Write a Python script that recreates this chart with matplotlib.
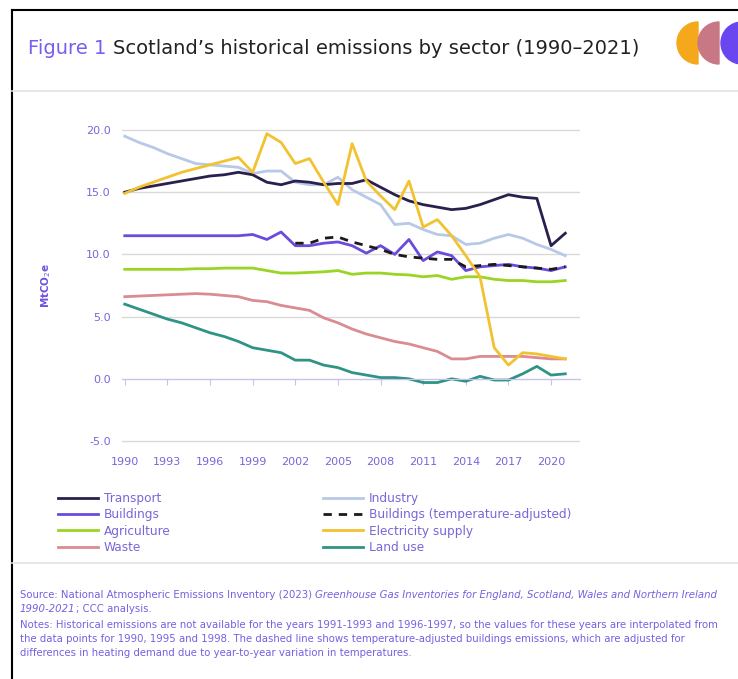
import matplotlib.pyplot as plt
from matplotlib.patches import Wedge, Circle
import numpy as np

plt.rcParams['font.family'] = ['DejaVu Sans']

years = list(range(1990, 2022))

transport = [15.0, 15.3, 15.5, 15.7, 15.9, 16.1, 16.3, 16.4, 16.6, 16.4, 15.8, 15.6,
             15.9, 15.8, 15.6, 15.7, 15.7, 16.0, 15.4, 14.8, 14.3, 14.0, 13.8, 13.6,
             13.7, 14.0, 14.4, 14.8, 14.6, 14.5, 10.7, 11.7]
industry = [19.5, 19.0, 18.6, 18.1, 17.7, 17.3, 17.2, 17.1, 17.0, 16.5, 16.7, 16.7,
            15.8, 15.6, 15.6, 16.2, 15.2, 14.6, 14.0, 12.4, 12.5, 12.0, 11.6, 11.5,
            10.8, 10.9, 11.3, 11.6, 11.3, 10.8, 10.4, 9.9]
buildings = [11.5, 11.5, 11.5, 11.5, 11.5, 11.5, 11.5, 11.5, 11.5, 11.6, 11.2, 11.8,
             10.7, 10.7, 10.9, 11.0, 10.7, 10.1, 10.7, 10.0, 11.2, 9.5, 10.2, 9.9,
             8.7, 9.0, 9.1, 9.2, 9.0, 8.9, 8.7, 9.0]
buildings_adj = [np.nan] * 12 + [10.9, 10.9, 11.3, 11.4, 11.0, 10.7, 10.4, 10.0, 9.8,
                                 9.7, 9.6, 9.6, 9.0, 9.1, 9.2, 9.1, 9.0, 8.9, 8.8, 9.0]
agriculture = [8.8, 8.8, 8.8, 8.8, 8.8, 8.85, 8.85, 8.9, 8.9, 8.9, 8.7, 8.5,
               8.5, 8.55, 8.6, 8.7, 8.4, 8.5, 8.5, 8.4, 8.35, 8.2, 8.3, 8.0,
               8.2, 8.2, 8.0, 7.9, 7.9, 7.8, 7.8, 7.9]
electricity = [14.9, 15.4, 15.8, 16.2, 16.6, 16.9, 17.2, 17.5, 17.8, 16.6, 19.7, 19.0,
               17.3, 17.7, 15.8, 14.0, 18.9, 15.9, 14.7, 13.6, 15.9, 12.2, 12.8, 11.5,
               9.9, 8.2, 2.5, 1.1, 2.1, 2.0, 1.8, 1.6]
waste = [6.6, 6.65, 6.7, 6.75, 6.8, 6.85, 6.8, 6.7, 6.6, 6.3, 6.2, 5.9,
         5.7, 5.5, 4.9, 4.5, 4.0, 3.6, 3.3, 3.0, 2.8, 2.5, 2.2, 1.6,
         1.6, 1.8, 1.8, 1.8, 1.8, 1.7, 1.6, 1.6]
land_use = [6.0, 5.6, 5.2, 4.8, 4.5, 4.1, 3.7, 3.4, 3.0, 2.5, 2.3, 2.1,
            1.5, 1.5, 1.1, 0.9, 0.5, 0.3, 0.1, 0.1, 0.0, -0.3, -0.3, 0.0,
            -0.2, 0.2, -0.1, -0.1, 0.4, 1.0, 0.3, 0.4]

xticks = list(range(1990, 2021, 3))
yticks = [-5, 0, 5, 10, 15, 20]

purple = '#6e52e0'
label_purple = '#7a66d8'

fig = plt.figure(figsize=(7.38, 6.79), dpi=100)
# y range -5.2..20.2 -> pixel 443.5..127.5
ax = fig.add_axes([0.165, 1 - 443.5 / 679, 0.621, 316 / 679])

lw = 2.0
ax.plot(years, land_use, color='#2f9486', lw=lw, label='Land use')
ax.plot(years, waste, color='#d98c92', lw=lw, label='Waste')
ax.plot(years, agriculture, color='#9ad424', lw=lw, label='Agriculture')
ax.plot(years, buildings, color='#6a4bdc', lw=lw, label='Buildings')
ax.plot(years, buildings_adj, color='#1a1a1a', lw=lw, ls=(0, (3, 2.5)),
        label='Buildings (temperature-adjusted)')
ax.plot(years, industry, color='#b7c9e6', lw=lw, label='Industry')
ax.plot(years, transport, color='#2a1f4d', lw=lw, label='Transport')
ax.plot(years, electricity, color='#f2c230', lw=lw, label='Electricity supply')

ax.set_xlim(1989.79, 2022.04)
ax.set_ylim(-5.2, 20.2)
ax.set_yticks(yticks)
ax.set_yticklabels([f'{v:.1f}' for v in yticks])
ax.yaxis.grid(True, color='#d9d9d9', lw=1)
ax.set_axisbelow(True)
for s in ['top', 'right', 'left']:
    ax.spines[s].set_visible(False)
ax.spines['bottom'].set_position(('data', 0))
ax.spines['bottom'].set_color('#c8c0ee')
ax.set_xticks(xticks)
ax.tick_params(axis='x', colors='#c8c0ee', length=4, labelbottom=False)
ax.tick_params(axis='y', length=0, labelsize=8, labelcolor=label_purple, pad=8)

sec = ax.secondary_xaxis('bottom')
sec.set_xticks(xticks)
sec.spines['bottom'].set_visible(False)
sec.tick_params(length=0, labelsize=8, labelcolor=label_purple, pad=10)

ax.set_ylabel('MtCO$_2$e', color=purple, fontsize=7.5, fontweight='bold', labelpad=24)

h, l = ax.get_legend_handles_labels()
order = ['Transport', 'Buildings', 'Agriculture', 'Waste', 'Industry',
         'Buildings (temperature-adjusted)', 'Electricity supply', 'Land use']
hd = dict(zip(l, h))
leg = fig.legend([hd[k] for k in order], order, ncol=2, frameon=False,
                 loc='upper left', bbox_to_anchor=(0.072, 0.282), fontsize=8.7,
                 handlelength=3.3, handletextpad=0.5, labelspacing=0.26,
                 columnspacing=12.6, borderaxespad=0)
for t in leg.get_texts():
    t.set_color(label_purple)

# frame and separators
fig.add_artist(plt.Line2D([12 / 738, 12 / 738], [0, 1 - 10 / 679], color='black',
                          lw=1.5, transform=fig.transFigure))
fig.add_artist(plt.Line2D([12 / 738, 1], [1 - 10 / 679, 1 - 10 / 679], color='black',
                          lw=1.5, transform=fig.transFigure))
fig.add_artist(plt.Line2D([12 / 738, 1], [1 - 91 / 679, 1 - 91 / 679], color='#e3e3e3',
                          lw=1.2, transform=fig.transFigure))
fig.add_artist(plt.Line2D([12 / 738, 1], [1 - 563 / 679, 1 - 563 / 679], color='#e3e3e3',
                          lw=1.2, transform=fig.transFigure))

# title
renderer = fig.canvas.get_renderer()
t1 = fig.text(28 / 738, 1 - 48 / 679, 'Figure 1 ', color='#7a5cf0', fontsize=14,
              va='center', ha='left')
bb = t1.get_window_extent(renderer)
fig.text(bb.x1 / 738, 1 - 48 / 679, 'Scotland\u2019s historical emissions by sector (1990\u20132021)',
         color='#222222', fontsize=14, va='center', ha='left')

# logo half circles
ax_logo = fig.add_axes([0, 0, 1, 1], zorder=-1)
ax_logo.set_xlim(0, 738)
ax_logo.set_ylim(679, 0)
ax_logo.set_aspect('equal')
ax_logo.axis('off')
ax_logo.add_patch(Wedge((698, 43), 21, 90, 270, color='#f5a81c'))
ax_logo.add_patch(Wedge((719, 43), 21, 90, 270, color='#c77884'))
ax_logo.add_patch(Circle((742, 43), 21, color='#6a46f0'))

# footer
fs = 7.3
foot_col = '#7560e0'

def line(pieces, y):
    x = 20
    for txt, style in pieces:
        t = fig.text(x / 738, 1 - y / 679, txt, fontsize=fs, color=foot_col,
                     style=style, va='center', ha='left')
        x = t.get_window_extent(renderer).x1
    return x

line([('Source: National Atmospheric Emissions Inventory (2023) ', 'normal'),
      ('Greenhouse Gas Inventories for England, Scotland, Wales and Northern Ireland', 'italic')], 595)
line([('1990-2021', 'italic'), ('; CCC analysis.', 'normal')], 609)
line([('Notes: Historical emissions are not available for the years 1991-1993 and 1996-1997, '
       'so the values for these years are interpolated from', 'normal')], 625)
line([('the data points for 1990, 1995 and 1998. The dashed line shows temperature-adjusted '
       'buildings emissions, which are adjusted for', 'normal')], 639)
line([('differences in heating demand due to year-to-year variation in temperatures.', 'normal')], 653)

fig.savefig('out.png', dpi=100)
